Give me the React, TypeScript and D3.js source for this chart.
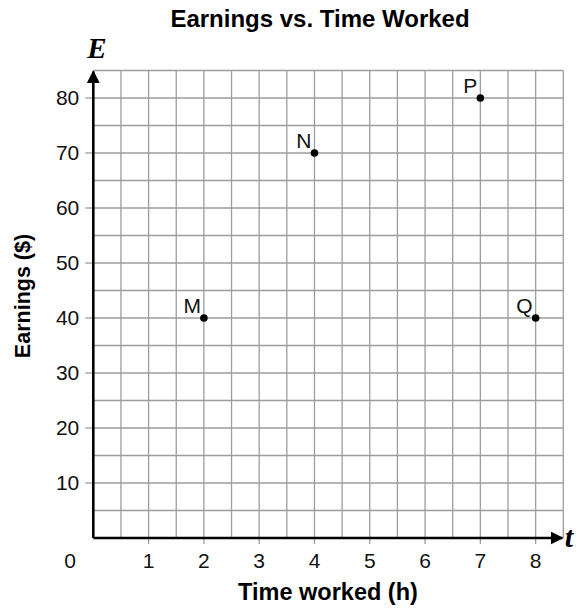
import React from "react";
import * as d3 from "d3";

// chart data
const pointLabels = ["M", "N", "P", "Q"];
const hoursWorked = [2, 4, 7, 8];
const earnings = [40, 70, 80, 40];
const xTicks = [1, 2, 3, 4, 5, 6, 7, 8];
const yTicks = [10, 20, 30, 40, 50, 60, 70, 80];

const W = 581;
const H = 609;
const plot = { left: 93.3, right: 563.3, top: 70.5, bottom: 538 };

export default function App() {
	const x = d3.scaleLinear().domain([0, 8.5]).range([plot.left, plot.right]);
	const y = d3.scaleLinear().domain([0, 85]).range([plot.bottom, plot.top]);

	// grid every half hour and every $5
	const xGrid = d3.range(0.5, 8.51, 0.5);
	const yGrid = d3.range(5, 85.1, 5);

	const font = "'Liberation Sans', Arial, Helvetica, sans-serif";
	const serif = "'Liberation Serif', 'Times New Roman', serif";

	return (
		<svg width={W} height={H} style={{ position: "absolute", left: 0, top: 0, background: "#fff" }}>
			<defs>
				<marker id="arr" viewBox="0 0 10 10" refX="9" refY="5" markerWidth="5" markerHeight="5" orient="auto" markerUnits="strokeWidth">
					<path d="M0,0 L10,5 L0,10 Z" fill="#000" />
				</marker>
			</defs>

			{/* title */}
			<text x={320} y={27} textAnchor="middle" fontFamily={font} fontWeight="bold" fontSize={24}>
				Earnings vs. Time Worked
			</text>

			{/* grid */}
			<g stroke="#9d9d9d" strokeWidth={1.3}>
				{xGrid.map((v) => (
					<line key={"gx" + v} x1={x(v)} x2={x(v)} y1={y(85)} y2={y(0)} />
				))}
				{yGrid.map((v) => (
					<line key={"gy" + v} x1={x(0)} x2={x(8.5)} y1={y(v)} y2={y(v)} />
				))}
				{/* tick stubs outside the grid */}
				{xTicks.map((v) => (
					<line key={"tx" + v} x1={x(v)} x2={x(v)} y1={y(0)} y2={y(0) + 6} />
				))}
				{yTicks.map((v) => (
					<line key={"ty" + v} x1={x(0) - 8} x2={x(0)} y1={y(v)} y2={y(v)} />
				))}
			</g>

			{/* axes with arrows */}
			<g stroke="#000" strokeWidth={2.6}>
				<line x1={x(0)} y1={y(0)} x2={x(0)} y2={y(85) + 1} markerEnd="url(#arr)" />
				<line x1={x(0)} y1={y(0)} x2={x(8.5) - 1} y2={y(0)} markerEnd="url(#arr)" />
			</g>

			{/* tick labels */}
			<g fontFamily={font} fontSize={21} fill="#111">
				{yTicks.map((v) => (
					<text key={"ly" + v} x={x(0) - 14} y={y(v)} dy="0.35em" textAnchor="end">
						{v}
					</text>
				))}
				{xTicks.map((v) => (
					<text key={"lx" + v} x={x(v)} y={568} textAnchor="middle">
						{v}
					</text>
				))}
				<text x={70} y={568} textAnchor="middle">
					0
				</text>
			</g>

			{/* axis letters */}
			<text x={97} y={58} textAnchor="middle" fontFamily={serif} fontStyle="italic" fontWeight="bold" fontSize={29}>
				E
			</text>
			<text x={569} y={547} textAnchor="middle" fontFamily={serif} fontStyle="italic" fontWeight="bold" fontSize={30}>
				t
			</text>

			{/* axis titles */}
			<text x={328} y={600} textAnchor="middle" fontFamily={font} fontWeight="bold" fontSize={23.5}>
				Time worked (h)
			</text>
			<text
				transform={`translate(30,296) rotate(-90)`}
				textAnchor="middle"
				fontFamily={font}
				fontWeight="bold"
				fontSize={21.5}
			>
				Earnings ($)
			</text>

			{/* points */}
			<g fontFamily={font} fontSize={21}>
				{pointLabels.map((lab, i) => (
					<g key={lab}>
						<circle cx={x(hoursWorked[i])} cy={y(earnings[i])} r={3.8} fill="#000" />
						<text x={x(hoursWorked[i]) - 3} y={y(earnings[i]) - 5} textAnchor="end" fill="#111">
							{lab}
						</text>
					</g>
				))}
			</g>
		</svg>
	);
}
